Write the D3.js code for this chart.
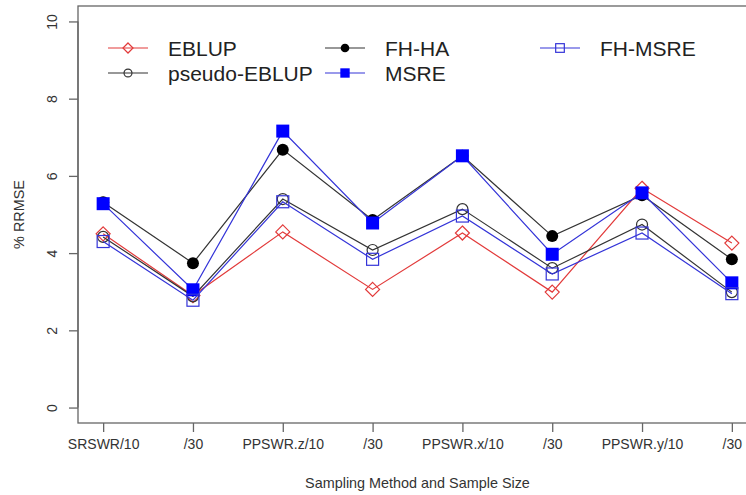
<!DOCTYPE html>
<html>
<head>
<meta charset="utf-8">
<script src="https://cdn.jsdelivr.net/npm/d3@7"></script>
<style>
  html, body { margin: 0; padding: 0; background: #fff; }
  svg { display: block; font-family: "Liberation Sans", Arial, sans-serif; }
</style>
</head>
<body>
<svg id="chart" width="746" height="495"></svg>
<script>
// Sampling design / sample size on the x axis
const categories = ["SRSWR/10", "/30", "PPSWR.z/10", "/30", "PPSWR.x/10", "/30", "PPSWR.y/10", "/30"];

// % RRMSE for each estimator
const eblup       = [4.50, 2.90, 4.55, 3.06, 4.52, 2.99, 5.68, 4.26];
const pseudoEblup = [4.42, 2.88, 5.40, 4.08, 5.14, 3.61, 4.74, 2.99];
const fhHa        = [5.32, 3.74, 6.68, 4.86, 6.52, 4.44, 5.50, 3.84];
const msre        = [5.28, 3.05, 7.16, 4.78, 6.52, 3.97, 5.56, 3.23];
const fhMsre      = [4.30, 2.78, 5.33, 3.84, 4.96, 3.46, 4.52, 2.95];

const yTicks = [0, 2, 4, 6, 8, 10];

const series = [
  { name: "EBLUP",        values: eblup,       color: "#e23a3a", shape: "diamond" },
  { name: "pseudo-EBLUP", values: pseudoEblup, color: "#333333", shape: "circle"  },
  { name: "FH-HA",        values: fhHa,        color: "#333333", shape: "dot"     },
  { name: "MSRE",         values: msre,        color: "#3434d8", shape: "fsquare" },
  { name: "FH-MSRE",      values: fhMsre,      color: "#3434d8", shape: "osquare" }
];

const svg = d3.select("#chart");
const box = { left: 78, right: 757, top: 6, bottom: 423 };

// R-style 4% padding around the data range
const x = d3.scaleLinear().domain([0.72, 8.28]).range([box.left, box.right]);
const y = d3.scaleLinear().domain([-0.4, 10.4]).range([box.bottom, box.top]);

// plot frame
svg.append("rect")
  .attr("x", box.left).attr("y", box.top)
  .attr("width", box.right - box.left).attr("height", box.bottom - box.top)
  .attr("fill", "none").attr("stroke", "#666").attr("stroke-width", 1.3);

// y axis
const yAxis = svg.append("g").attr("transform", `translate(${box.left},0)`)
  .call(d3.axisLeft(y).tickValues(yTicks).tickSize(9).tickSizeOuter(0).tickFormat(d3.format("d")));
yAxis.select(".domain").attr("d", `M0,${y(0)}V${y(10)}`).attr("stroke", "#666").attr("stroke-width", 1.3);
yAxis.selectAll(".tick line").attr("stroke", "#666").attr("stroke-width", 1.3);
yAxis.selectAll(".tick text")
  .attr("x", 0).attr("dy", 0)
  .attr("transform", "translate(-21,0) rotate(-90)")
  .attr("text-anchor", "middle")
  .attr("font-size", 14).attr("fill", "#333")
  .attr("font-family", "Liberation Sans, Arial, sans-serif");

// x axis
const xAxis = svg.append("g").attr("transform", `translate(0,${box.bottom})`)
  .call(d3.axisBottom(x).tickValues(d3.range(1, 9)).tickSize(9).tickSizeOuter(0)
    .tickFormat(d => categories[d - 1]));
xAxis.select(".domain").remove();
xAxis.selectAll(".tick line").attr("stroke", "#666").attr("stroke-width", 1.3);
xAxis.selectAll(".tick text")
  .attr("y", 26).attr("dy", 0)
  .attr("font-size", 14).attr("fill", "#333")
  .attr("font-family", "Liberation Sans, Arial, sans-serif");

// axis titles, centred on the plot region
svg.append("text")
  .attr("x", (box.left + box.right) / 2).attr("y", 488)
  .attr("text-anchor", "middle").attr("font-size", 14.4).attr("fill", "#333")
  .text("Sampling Method and Sample Size");
svg.append("text")
  .attr("transform", `translate(24,${(box.top + box.bottom) / 2}) rotate(-90)`)
  .attr("text-anchor", "middle").attr("font-size", 14.4).attr("fill", "#333")
  .text("% RRMSE");

// marker drawing
function drawMarker(g, shape, color, cx, cy, s) {
  if (shape === "diamond") {
    const r = 7 * s;
    g.append("path")
      .attr("d", `M${cx},${cy - r}L${cx + r},${cy}L${cx},${cy + r}L${cx - r},${cy}Z`)
      .attr("fill", "none").attr("stroke", color).attr("stroke-width", 1.2);
  } else if (shape === "circle") {
    g.append("circle").attr("cx", cx).attr("cy", cy).attr("r", 5.5 * s)
      .attr("fill", "none").attr("stroke", color).attr("stroke-width", 1.2);
  } else if (shape === "dot") {
    g.append("circle").attr("cx", cx).attr("cy", cy).attr("r", 6 * s)
      .attr("fill", "#000").attr("stroke", "none");
  } else if (shape === "fsquare") {
    const h = 6.5 * s;
    g.append("rect").attr("x", cx - h).attr("y", cy - h).attr("width", 2 * h).attr("height", 2 * h)
      .attr("fill", "#0000ff").attr("stroke", "none");
  } else if (shape === "osquare") {
    const h = 6 * s;
    g.append("rect").attr("x", cx - h).attr("y", cy - h).attr("width", 2 * h).attr("height", 2 * h)
      .attr("fill", "none").attr("stroke", color).attr("stroke-width", 1.2);
  }
}

const line = d3.line().x((d, i) => x(i + 1)).y(d => y(d));

series.forEach(s => {
  const g = svg.append("g");
  g.append("path").datum(s.values)
    .attr("d", line)
    .attr("fill", "none").attr("stroke", s.color).attr("stroke-width", 1.2);
  s.values.forEach((v, i) => drawMarker(g, s.shape, s.color, x(i + 1), y(v), 1));
});

// legend, three columns
const legendPos = [
  { x: 108, y: 48 }, { x: 108, y: 73 },
  { x: 325, y: 48 }, { x: 325, y: 73 },
  { x: 540, y: 48 }
];
series.forEach((s, i) => {
  const p = legendPos[i];
  const g = svg.append("g");
  g.append("line").attr("x1", p.x).attr("x2", p.x + 40).attr("y1", p.y).attr("y2", p.y)
    .attr("stroke", s.color).attr("stroke-width", 1.2);
  drawMarker(g, s.shape, s.color, p.x + 20, p.y, 0.72);
  g.append("text").attr("x", p.x + 60).attr("y", p.y + 7.5)
    .attr("font-size", 21).attr("fill", "#222").text(s.name);
});
</script>
</body>
</html>
